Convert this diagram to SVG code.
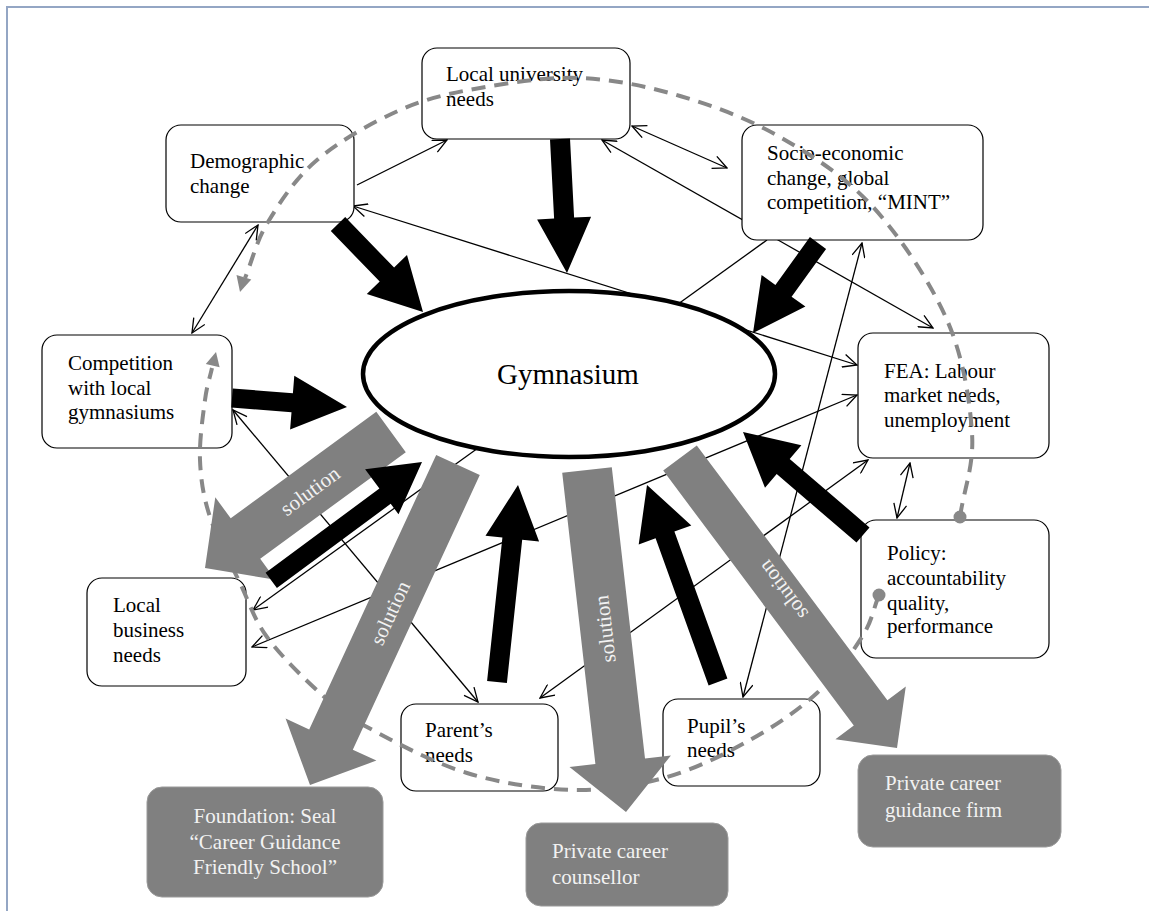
<svg xmlns="http://www.w3.org/2000/svg" width="1149" height="911" viewBox="0 0 1149 911">
  <defs>
    <style>
      .box { fill: #ffffff; stroke: #000000; stroke-width: 1.2; }
      .gbox { fill: #808080; stroke: #9a9a9a; stroke-width: 1; }
      .t { font-family: "Liberation Serif", "Times New Roman", serif; font-size: 21px; fill: #000000; }
      .tw { font-family: "Liberation Serif", "Times New Roman", serif; font-size: 21px; fill: #f2f2f2; }
      .big { font-family: "Liberation Serif", "Times New Roman", serif; font-size: 29px; fill: #000000; }
      .link { fill: none; stroke: #000000; stroke-width: 1.3; }
      .flow { fill: #000000; }
      .sol { fill: #808080; }
      .ring { fill: none; stroke: #888888; stroke-width: 4; stroke-dasharray: 14 9; }
      .ringend { fill: #888888; }
    </style>
    <marker id="v" viewBox="0 0 16 14" refX="15" refY="7" markerWidth="16" markerHeight="14" markerUnits="userSpaceOnUse" orient="auto-start-reverse">
      <path d="M1,0.5 L15,7 L1,13.5" fill="none" stroke="#000000" stroke-width="1.3"/>
    </marker>
  </defs>

  <rect width="1149" height="911" fill="#ffffff"/>

  <!-- page frame -->
  <path d="M7,911 V7 H1149" fill="none" stroke="#94a6c4" stroke-width="2"/>

  <!-- thin relations between the surrounding factors -->
  <g id="connectors">
    <line class="link" x1="357" y1="185" x2="447" y2="140" marker-end="url(#v)"/>
    <line class="link" x1="353" y1="206" x2="857" y2="365" marker-start="url(#v)" marker-end="url(#v)"/>
    <line class="link" x1="632" y1="126" x2="727" y2="168" marker-start="url(#v)" marker-end="url(#v)"/>
    <line class="link" x1="602" y1="140" x2="933" y2="328" marker-start="url(#v)" marker-end="url(#v)"/>
    <line class="link" x1="767" y1="240" x2="253" y2="610" marker-end="url(#v)"/>
    <line class="link" x1="252" y1="647" x2="857" y2="395" marker-start="url(#v)" marker-end="url(#v)"/>
    <line class="link" x1="540" y1="698" x2="868" y2="460" marker-start="url(#v)" marker-end="url(#v)"/>
    <line class="link" x1="233" y1="410" x2="478" y2="702" marker-start="url(#v)" marker-end="url(#v)"/>
    <line class="link" x1="258" y1="225" x2="192" y2="333" marker-start="url(#v)" marker-end="url(#v)"/>
    <line class="link" x1="743" y1="697" x2="862" y2="243" marker-start="url(#v)" marker-end="url(#v)"/>
    <line class="link" x1="910" y1="463" x2="897" y2="518" marker-start="url(#v)" marker-end="url(#v)"/>
  </g>

  <!-- factor nodes -->
  <g id="demographic">
    <rect class="box" x="166" y="125" width="188" height="97" rx="15"/>
    <text class="t" x="190" y="168">Demographic</text>
    <text class="t" x="190" y="193">change</text>
  </g>
  <g id="university">
    <rect class="box" x="422" y="48" width="208" height="91" rx="15"/>
    <text class="t" x="446" y="81">Local university</text>
    <text class="t" x="446" y="106">needs</text>
  </g>
  <g id="socio-economic">
    <rect class="box" x="742" y="125" width="241" height="115" rx="15"/>
    <text class="t" x="767" y="160">Socio-economic</text>
    <text class="t" x="767" y="185">change, global</text>
    <text class="t" x="767" y="209">competition, “MINT”</text>
  </g>
  <g id="competition">
    <rect class="box" x="42" y="335" width="190" height="113" rx="15"/>
    <text class="t" x="68" y="370">Competition</text>
    <text class="t" x="68" y="395">with local</text>
    <text class="t" x="68" y="419">gymnasiums</text>
  </g>
  <g id="fea">
    <rect class="box" x="858" y="333" width="191" height="125" rx="15"/>
    <text class="t" x="884" y="378">FEA: Labour</text>
    <text class="t" x="884" y="402">market needs,</text>
    <text class="t" x="884" y="427">unemployment</text>
  </g>
  <g id="policy">
    <rect class="box" x="861" y="520" width="188" height="138" rx="15"/>
    <text class="t" x="887" y="560">Policy:</text>
    <text class="t" x="887" y="585">accountability</text>
    <text class="t" x="887" y="610">quality,</text>
    <text class="t" x="887" y="633">performance</text>
  </g>
  <g id="business">
    <rect class="box" x="87" y="578" width="159" height="108" rx="15"/>
    <text class="t" x="113" y="612">Local</text>
    <text class="t" x="113" y="637">business</text>
    <text class="t" x="113" y="662">needs</text>
  </g>
  <g id="parents">
    <rect class="box" x="401" y="704" width="157" height="87" rx="15"/>
    <text class="t" x="425" y="737">Parent’s</text>
    <text class="t" x="425" y="762">needs</text>
  </g>
  <g id="pupils">
    <rect class="box" x="663" y="699" width="157" height="87" rx="15"/>
    <text class="t" x="687" y="733">Pupil’s</text>
    <text class="t" x="687" y="757">needs</text>
  </g>
  <g id="gymnasium">
    <ellipse cx="569" cy="374" rx="206" ry="83" fill="#ffffff" stroke="#000000" stroke-width="4.5"/>
    <text class="big" x="568" y="384" text-anchor="middle">Gymnasium</text>
  </g>

  <!-- dashed feedback cycle -->
  <g id="cycle">
    <path class="ring" d="M960,517 C964,489 974.2,465.8 972,433 C969.8,400.2 963.5,357.7 947,320 C930.5,282.3 900.8,237.5 873,207 C845.2,176.5 812.2,155.5 780,137 C747.8,118.5 713.3,105.8 680,96 C646.7,86.2 613.3,79.3 580,78 C546.7,76.7 510,82.7 480,88 C450,93.3 427.2,98 400,110 C372.8,122 339,141.3 317,160 C295,178.7 280,202.3 268,222 C256,241.7 252.7,259.3 245,278"/>
    <polygon class="ringend" points="240,292 251.3,279.5 236.5,275"/>
    <circle class="ringend" cx="960" cy="517" r="6.5"/>
    <path class="ring" d="M879,595 C873.3,609 872.3,620.7 862,637 C851.7,653.3 835.7,675.8 817,693 C798.3,710.2 775,726 750,740 C725,754 696.2,768.7 667,777 C637.8,785.3 608.3,790.7 575,790 C541.7,789.3 501.7,783.5 467,773 C432.3,762.5 391.5,740.3 367,727 C342.5,713.7 336.7,708 320,693 C303.3,678 280.3,655.3 267,637 C253.7,618.7 249.5,603 240,583 C230.5,563 216.7,537.5 210,517 C203.3,496.5 200.8,479.5 200,460 C199.2,440.5 203,415.3 205,400 C207,384.7 209.7,378.7 212,368"/>
    <polygon class="ringend" points="216,352 219.6,367.3 205.8,363.9"/>
    <circle class="ringend" cx="879" cy="595" r="6.5"/>
  </g>

  <!-- main influence arrows into the school -->
  <g id="flows">
    <polygon class="flow" points="330.8,231.0 379.7,281.6 366.8,294.1 423,312 407.0,255.1 394.1,267.6 345.2,217.1"/>
    <polygon class="flow" points="550.0,139.5 554.1,218.6 537.1,219.5 567,273 591.1,216.7 574.1,217.6 570.0,138.5"/>
    <polygon class="flow" points="809.9,237.1 775.4,285.0 761.6,275.0 753,333 805.4,306.6 791.6,296.7 826.1,248.9"/>
    <polygon class="flow" points="231.3,407.5 291.5,412.2 290.1,429.6 347,407 294.3,375.8 292.9,393.2 232.7,388.5"/>
    <polygon class="flow" points="869.5,527.4 789.7,458.9 801.4,445.3 743,432 765.0,487.8 776.7,474.1 856.5,542.6"/>
    <polygon class="flow" points="727.4,678.6 674.4,531.5 691.3,525.4 647,485 638.7,544.4 655.6,538.3 708.6,685.4"/>
    <polygon class="flow" points="506.9,683.1 522.2,539.8 539.1,541.6 518,485 485.5,535.8 502.4,537.6 487.1,680.9"/>
  </g>

  <!-- solution arrows to the external providers -->
  <g id="solutions">
    <polygon class="sol" points="376.3,411.8 230.7,518.3 215.3,497.3 205,568 275.5,579.7 260.2,558.7 405.8,452.2"/>
    <polygon class="sol" points="436.2,454.9 309.2,729.5 285.6,718.6 310,785 376.4,760.6 352.8,749.7 479.8,475.1"/>
    <polygon class="sol" points="562.2,472.8 595.4,764.1 569.5,767.1 626,812 670.9,755.5 645.0,758.5 611.8,467.2"/>
    <polygon class="sol" points="663.2,470.6 853.8,725.4 835.4,739.2 897,748 905.8,686.4 887.4,700.2 696.8,445.4"/>
    <text class="tw" text-anchor="middle" transform="translate(310,491) rotate(-36.2)" y="7">solution</text>
    <text class="tw" text-anchor="middle" transform="translate(390,613) rotate(-65.2)" y="7">solution</text>
    <text class="tw" text-anchor="middle" transform="translate(605,629) rotate(-96.5)" y="7">solution</text>
    <text class="tw" text-anchor="middle" transform="translate(783,590) rotate(-126.8)" y="7">solution</text>
  </g>

  <!-- influence arrow from the local business side, lying over the solution arrow's head -->
  <g id="flow-business">
    <polygon class="flow" points="276.9,588.1 390.7,503.8 398.5,514.3 422,462 365.1,469.2 379.4,488.5 265.6,572.8"/>
  </g>

  <!-- external providers -->
  <g id="foundation">
    <rect class="gbox" x="147" y="787" width="236" height="110" rx="15"/>
    <text class="tw" x="265" y="823" text-anchor="middle">Foundation: Seal</text>
    <text class="tw" x="265" y="849" text-anchor="middle">“Career Guidance</text>
    <text class="tw" x="265" y="874" text-anchor="middle">Friendly School”</text>
  </g>
  <g id="counsellor">
    <rect class="gbox" x="526" y="823" width="202" height="83" rx="15"/>
    <text class="tw" x="552" y="858">Private career</text>
    <text class="tw" x="552" y="884">counsellor</text>
  </g>
  <g id="guidance-firm">
    <rect class="gbox" x="858" y="755" width="203" height="92" rx="15"/>
    <text class="tw" x="885" y="790">Private career</text>
    <text class="tw" x="885" y="817">guidance firm</text>
  </g>
</svg>
